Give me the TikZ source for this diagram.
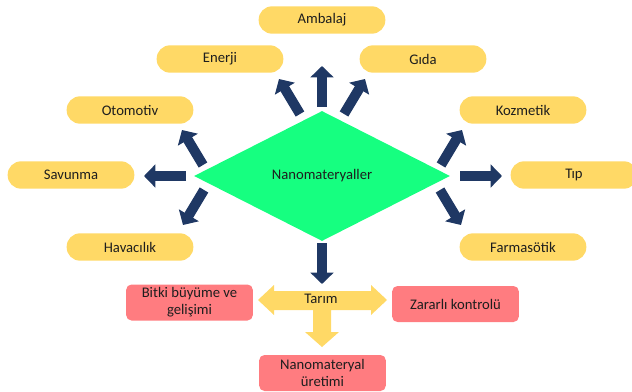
\documentclass[tikz,border=0pt]{standalone}
\usepackage{fontspec}
\setmainfont{Carlito}
\usepackage{tikz}
\usetikzlibrary{shapes.geometric, arrows.meta, positioning}

\definecolor{navyblue}{RGB}{31,56,100}
\definecolor{goldpill}{RGB}{255,217,102}
\definecolor{springgreen}{RGB}{22,255,128}
\definecolor{salmonbox}{RGB}{255,124,128}
\definecolor{labeltext}{RGB}{30,30,30}

\begin{document}
\begin{tikzpicture}[x=0.75pt, y=-0.75pt,
    every node/.style={text=labeltext, font=\fontsize{11}{12.5}\selectfont},
    pill/.style={fill=goldpill, rounded corners=10pt, minimum width=95pt,
        minimum height=20.5pt, inner sep=0pt},
    redbox/.style={fill=salmonbox, rounded corners=4pt, minimum width=95pt,
        minimum height=27pt, align=center, inner sep=0pt},
    navyarr/.style={draw=navyblue, line width=7.5pt,
        -{Triangle[length=8.5pt, width=17pt]}}]
    \useasboundingbox (0,0) rectangle (632,392);

    % Central diamond
    \node[diamond, fill=springgreen, aspect=1.97, minimum width=192pt,
        minimum height=97.5pt, inner sep=0pt] (nano) at (322,176) {Nanomateryaller};

    % Application fields
    \node[pill] (ambalaj) at (322,20) {Ambalaj};
    \node[pill] (enerji) at (220,59) {Enerji};
    \node[pill] (gida) at (423,59) {Gıda};
    \node[pill] (otomotiv) at (130,110) {Otomotiv};
    \node[pill] (kozmetik) at (523,110) {Kozmetik};
    \node[pill] (savunma) at (71,175) {Savunma};
    \node[pill] (tip) at (574,175) {Tıp};
    \node[pill] (havacilik) at (130,247) {Havacılık};
    \node[pill] (farma) at (523,247) {Farmasötik};

    % Arrow ends
    \coordinate (upT) at (322,107);   \coordinate (upH) at (322,66);
    \coordinate (enT) at (300,114);   \coordinate (enH) at (279,79);
    \coordinate (giT) at (344,114);   \coordinate (giH) at (365,79);
    \coordinate (otT) at (203,165);   \coordinate (otH) at (182,130);
    \coordinate (koT) at (441,165);   \coordinate (koH) at (462,130);
    \coordinate (saT) at (186,176);   \coordinate (saH) at (144,176);
    \coordinate (tiT) at (460,176);   \coordinate (tiH) at (502,176);
    \coordinate (haT) at (204,190);   \coordinate (haH) at (183,225);
    \coordinate (faT) at (440,190);   \coordinate (faH) at (461,225);
    \coordinate (doT) at (322,243);   \coordinate (doH) at (322,284);

    % Navy arrows
    \draw[navyarr] (upT) -- (upH);
    \draw[navyarr] (enT) -- (enH);
    \draw[navyarr] (giT) -- (giH);
    \draw[navyarr] (otT) -- (otH);
    \draw[navyarr] (koT) -- (koH);
    \draw[navyarr] (saT) -- (saH);
    \draw[navyarr] (tiT) -- (tiH);
    \draw[navyarr] (haT) -- (haH);
    \draw[navyarr] (faT) -- (faH);
    \draw[navyarr] (doT) -- (doH);

    % Agriculture cross arrow
    \fill[goldpill] (258,300) -- (274,285) -- (274,291) -- (371,291) -- (371,285)
        -- (387,300) -- (371,315) -- (371,310) -- (331,310) -- (331,332)
        -- (339,332) -- (322,347) -- (305,332) -- (313,332) -- (313,310)
        -- (274,310) -- (274,315) -- cycle;
    \node (tarim) at (321,299) {Tarım};

    % Agriculture boxes
    \node[redbox] (bitki) at (189.5,302.5) {Bitki büyüme ve\\gelişimi};
    \node[redbox] (zararli) at (455.5,304) {Zararlı kontrolü};
    \node[redbox] (uretim) at (322.5,373) {Nanomateryal\\üretimi};

\end{tikzpicture}
\end{document}
